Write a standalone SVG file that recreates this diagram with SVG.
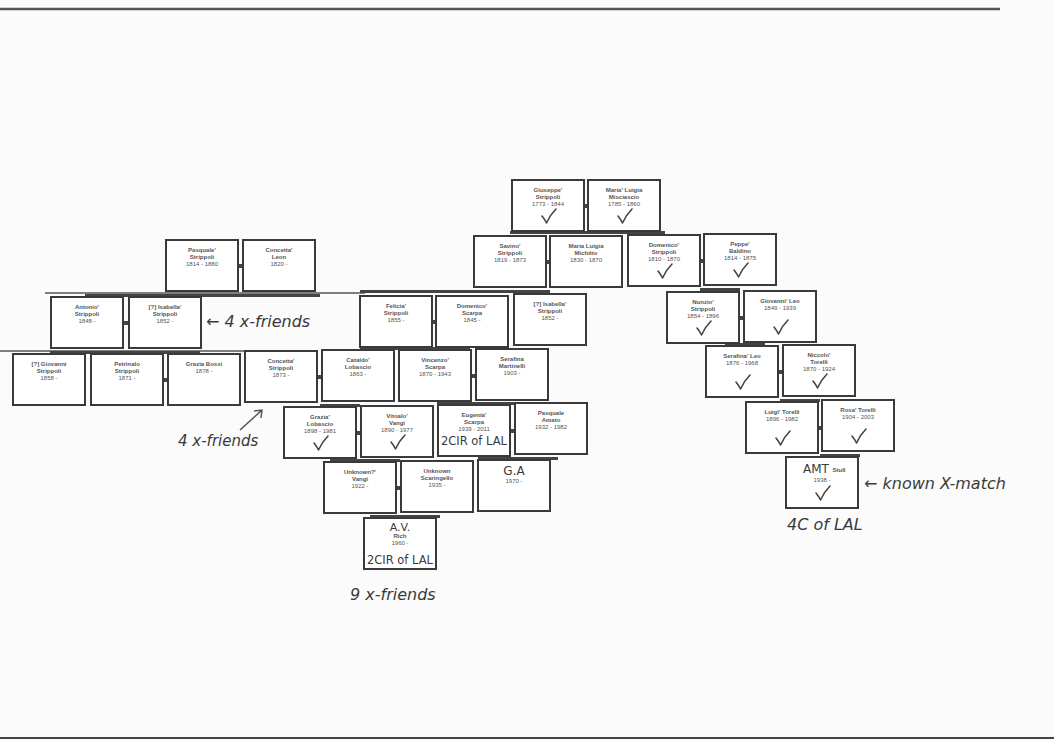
<svg xmlns="http://www.w3.org/2000/svg" width="1054" height="742" viewBox="0 0 1054 742">
<defs>
<style>
.bg{fill:#fbfbfb}
.box{fill:#fff;stroke:#3a3a3a;stroke-width:2}
.n{font-family:"Liberation Sans",Arial,sans-serif;font-size:6px;font-weight:bold;fill:#555;text-anchor:middle}
.d{font-weight:normal}
.hw{font-family:"DejaVu Sans",sans-serif;font-style:italic;fill:#3a3a3a}
.hwc{font-family:"DejaVu Sans",sans-serif;fill:#3a3a3a;text-anchor:middle}
.bar{fill:#444}
.thin{stroke:#555;stroke-width:1.5;fill:none}
.chk{stroke:#444;stroke-width:1.6;fill:none;stroke-linecap:round;stroke-linejoin:round}
</style>
<path id="check" class="chk" d="M30 36 Q32.5 39 34.5 43 Q38 35 44 29"/>
<rect id="b" class="box" x="0" y="0" width="72" height="51"/>
</defs>
<rect class="bg" x="0" y="0" width="1054" height="742"/>
<line x1="0" y1="9" x2="1000" y2="9" stroke="#555" stroke-width="2.5"/>
<line x1="0" y1="738" x2="1054" y2="738" stroke="#444" stroke-width="2"/>

<g id="connectors">
<line class="thin" x1="45" y1="293" x2="365" y2="293"/>
<line class="thin" x1="0" y1="351" x2="245" y2="351"/>
<rect class="bar" x="510" y="231" width="155" height="3"/>
<rect class="bar" x="360" y="290" width="190" height="3"/>
<rect class="bar" x="700" y="288" width="40" height="3"/>
<rect class="bar" x="85" y="294" width="235" height="3"/>
<rect class="bar" x="725" y="343" width="40" height="3"/>
<rect class="bar" x="50" y="351" width="150" height="3"/>
<rect class="bar" x="360" y="347" width="110" height="3"/>
<rect class="bar" x="780" y="399" width="40" height="3"/>
<rect class="bar" x="320" y="404" width="40" height="3"/>
<rect class="bar" x="437" y="402" width="100" height="3"/>
<rect class="bar" x="820" y="454" width="40" height="3"/>
<rect class="bar" x="330" y="459" width="70" height="3"/>
<rect class="bar" x="478" y="457" width="80" height="3"/>
<rect class="bar" x="370" y="515" width="70" height="3"/>
<rect class="bar" x="583" y="204" width="5" height="4"/>
<rect class="bar" x="546" y="260" width="4" height="4"/>
<rect class="bar" x="700" y="259" width="4" height="4"/>
<rect class="bar" x="238" y="264" width="5" height="4"/>
<rect class="bar" x="123" y="321" width="6" height="4"/>
<rect class="bar" x="432" y="320" width="4" height="4"/>
<rect class="bar" x="739" y="316" width="5" height="4"/>
<rect class="bar" x="163" y="378" width="5" height="4"/>
<rect class="bar" x="317" y="375" width="5" height="4"/>
<rect class="bar" x="471" y="374" width="5" height="4"/>
<rect class="bar" x="778" y="370" width="5" height="4"/>
<rect class="bar" x="356" y="431" width="5" height="4"/>
<rect class="bar" x="510" y="429" width="5" height="4"/>
<rect class="bar" x="818" y="426" width="4" height="4"/>
<rect class="bar" x="396" y="486" width="5" height="4"/>
</g>

<g id="giuseppe" transform="translate(512,180)"><use href="#b"/><text class="n" x="36" y="12">Giuseppe'</text><text class="n" x="36" y="19">Strippoli</text><text class="n d" x="36" y="26">1773 - 1844</text><use href="#check"/></g>
<g id="maria-misciascio" transform="translate(588,180)"><use href="#b"/><text class="n" x="36" y="12">Maria' Luigia</text><text class="n" x="36" y="19">Misciascio</text><text class="n d" x="36" y="26">1785 - 1860</text><use href="#check"/></g>
<g id="savino" transform="translate(474,236)"><use href="#b"/><text class="n" x="36" y="12">Savino'</text><text class="n" x="36" y="19">Strippoli</text><text class="n d" x="36" y="26">1819 - 1873</text></g>
<g id="maria-michitto" transform="translate(550,236)"><use href="#b"/><text class="n" x="36" y="12">Maria Luigia</text><text class="n" x="36" y="19">Michitto</text><text class="n d" x="36" y="26">1830 - 1870</text></g>
<g id="domenico-strippoli" transform="translate(628,235)"><use href="#b"/><text class="n" x="36" y="12">Domenico'</text><text class="n" x="36" y="19">Strippoli</text><text class="n d" x="36" y="26">1810 - 1870</text><use href="#check"/></g>
<g id="peppe" transform="translate(704,234)"><use href="#b"/><text class="n" x="36" y="12">Peppe'</text><text class="n" x="36" y="19">Baldino</text><text class="n d" x="36" y="26">1814 - 1875</text><use href="#check"/></g>
<g id="pasquale-strippoli" transform="translate(166,240)"><use href="#b"/><text class="n" x="36" y="12">Pasquale'</text><text class="n" x="36" y="19">Strippoli</text><text class="n d" x="36" y="26">1814 - 1880</text></g>
<g id="concetta-leon" transform="translate(243,240)"><use href="#b"/><text class="n" x="36" y="12">Concetta'</text><text class="n" x="36" y="19">Leon</text><text class="n d" x="36" y="26">1820 -</text></g>
<g id="antonio" transform="translate(51,297)"><use href="#b"/><text class="n" x="36" y="12">Antonio'</text><text class="n" x="36" y="19">Strippoli</text><text class="n d" x="36" y="26">1848 -</text></g>
<g id="isabella-1" transform="translate(129,297)"><use href="#b"/><text class="n" x="36" y="12">[?] Isabella'</text><text class="n" x="36" y="19">Strippoli</text><text class="n d" x="36" y="26">1852 -</text></g>
<g id="felicia" transform="translate(360,296)"><use href="#b"/><text class="n" x="36" y="12">Felicia'</text><text class="n" x="36" y="19">Strippoli</text><text class="n d" x="36" y="26">1855 -</text></g>
<g id="domenico-scarpa" transform="translate(436,296)"><use href="#b"/><text class="n" x="36" y="12">Domenico'</text><text class="n" x="36" y="19">Scarpa</text><text class="n d" x="36" y="26">1845 -</text></g>
<g id="isabella-2" transform="translate(514,294)"><use href="#b"/><text class="n" x="36" y="12">[?] Isabella'</text><text class="n" x="36" y="19">Strippoli</text><text class="n d" x="36" y="26">1852 -</text></g>
<g id="nunzio" transform="translate(667,292)"><use href="#b"/><text class="n" x="36" y="12">Nunzio'</text><text class="n" x="36" y="19">Strippoli</text><text class="n d" x="36" y="26">1854 - 1896</text><use href="#check"/></g>
<g id="giovanni-leo" transform="translate(744,291)"><use href="#b"/><text class="n" x="36" y="12">Giovanni' Leo</text><text class="n d" x="36" y="19">1849 - 1939</text><use href="#check"/></g>
<g id="giovanni-strippoli" transform="translate(13,354)"><use href="#b"/><text class="n" x="36" y="12">[?] Giovanni</text><text class="n" x="36" y="19">Strippoli</text><text class="n d" x="36" y="26">1858 -</text></g>
<g id="petrinalo" transform="translate(91,354)"><use href="#b"/><text class="n" x="36" y="12">Petrinalo</text><text class="n" x="36" y="19">Strippoli</text><text class="n d" x="36" y="26">1871 -</text></g>
<g id="grazia-bossi" transform="translate(168,354)"><use href="#b"/><text class="n" x="36" y="12">Grazia Bossi</text><text class="n d" x="36" y="19">1878 -</text></g>
<g id="concetta-strippoli" transform="translate(245,351)"><use href="#b"/><text class="n" x="36" y="12">Concetta'</text><text class="n" x="36" y="19">Strippoli</text><text class="n d" x="36" y="26">1873 -</text></g>
<g id="cataldo" transform="translate(322,350)"><use href="#b"/><text class="n" x="36" y="12">Cataldo'</text><text class="n" x="36" y="19">Lobascio</text><text class="n d" x="36" y="26">1863 -</text></g>
<g id="vincenzo" transform="translate(399,350)"><use href="#b"/><text class="n" x="36" y="12">Vincenzo'</text><text class="n" x="36" y="19">Scarpa</text><text class="n d" x="36" y="26">1870 - 1943</text></g>
<g id="serafina-martinelli" transform="translate(476,349)"><use href="#b"/><text class="n" x="36" y="12">Serafina</text><text class="n" x="36" y="19">Martinelli</text><text class="n d" x="36" y="26">1903 -</text></g>
<g id="serafina-leo" transform="translate(706,346)"><use href="#b"/><text class="n" x="36" y="12">Serafina' Leo</text><text class="n d" x="36" y="19">1876 - 1968</text><use href="#check"/></g>
<g id="niccolo" transform="translate(783,345)"><use href="#b"/><text class="n" x="36" y="12">Niccolo'</text><text class="n" x="36" y="19">Torelli</text><text class="n d" x="36" y="26">1870 - 1924</text><use href="#check"/></g>
<g id="grazia-lobascio" transform="translate(284,407)"><use href="#b"/><text class="n" x="36" y="12">Grazia'</text><text class="n" x="36" y="19">Lobascio</text><text class="n d" x="36" y="26">1898 - 1981</text><use href="#check"/></g>
<g id="vitoalo" transform="translate(361,406)"><use href="#b"/><text class="n" x="36" y="12">Vitoalo'</text><text class="n" x="36" y="19">Vangi</text><text class="n d" x="36" y="26">1890 - 1977</text><use href="#check"/></g>
<g id="eugenia" transform="translate(438,405)"><use href="#b"/><text class="n" x="36" y="12">Eugenia'</text><text class="n" x="36" y="19">Scarpa</text><text class="n d" x="36" y="26">1939 - 2011</text><text class="hwc" x="36" y="40" font-size="12" textLength="66" lengthAdjust="spacingAndGlyphs">2CIR of LAL</text></g>
<g id="pasquale-amato" transform="translate(515,403)"><use href="#b"/><text class="n" x="36" y="12">Pasquale</text><text class="n" x="36" y="19">Amato</text><text class="n d" x="36" y="26">1932 - 1982</text></g>
<g id="luigi" transform="translate(746,402)"><use href="#b"/><text class="n" x="36" y="12">Luigi' Torelli</text><text class="n d" x="36" y="19">1896 - 1982</text><use href="#check"/></g>
<g id="rosa" transform="translate(822,400)"><use href="#b"/><text class="n" x="36" y="12">Rosa' Torelli</text><text class="n d" x="36" y="19">1904 - 2003</text><use href="#check"/></g>
<g id="unknown-vangi" transform="translate(324,462)"><use href="#b"/><text class="n" x="36" y="12">Unknown?'</text><text class="n" x="36" y="19">Vangi</text><text class="n d" x="36" y="26">1922 -</text></g>
<g id="unknown-scaringello" transform="translate(401,461)"><use href="#b"/><text class="n" x="36" y="12">Unknown</text><text class="n" x="36" y="19">Scaringello</text><text class="n d" x="36" y="26">1935 -</text></g>
<g id="ga" transform="translate(478,460)"><use href="#b"/><text class="hwc" x="36" y="15" font-size="12">G.A</text><text class="n d" x="36" y="23">1970 -</text></g>
<g id="amt" transform="translate(786,457)"><use href="#b"/><text class="hwc" x="30" y="16" font-size="12">AMT</text><text class="n" x="53" y="15">Stull</text><text class="n d" x="36" y="25">1938 -</text><use href="#check"/></g>
<g id="av" transform="translate(364,518)"><use href="#b"/><text class="hwc" x="36" y="13" font-size="11">A.V.</text><text class="n" x="36" y="20">Rich</text><text class="n d" x="36" y="27">1960 -</text><text class="hwc" x="36" y="46" font-size="12" textLength="66" lengthAdjust="spacingAndGlyphs">2CIR of LAL</text></g>

<g id="annotations">
<text class="hw" x="206" y="327" font-size="16">← 4 x-friends</text>
<text class="hw" x="178" y="446" font-size="15">4 x-friends</text>
<path class="thin" d="M240 430 L262 410 M254 411 L262 410 L261 418"/>
<text class="hw" x="350" y="600" font-size="16">9 x-friends</text>
<text class="hw" x="864" y="489" font-size="16">← known X-match</text>
<text class="hw" x="787" y="530" font-size="16">4C of LAL</text>
</g>
</svg>
